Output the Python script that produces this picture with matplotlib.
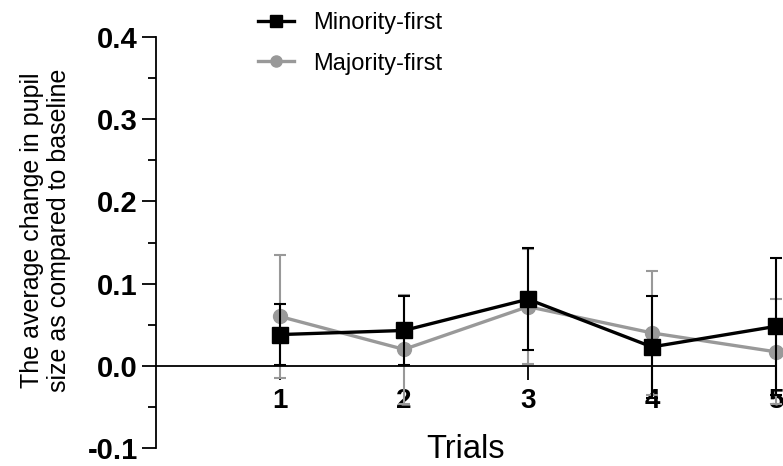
import matplotlib
matplotlib.use("Agg")
import matplotlib.pyplot as plt
from matplotlib.lines import Line2D
import numpy as np

plt.rcParams['font.family'] = ['Liberation Sans', 'DejaVu Sans']

trials = [1, 2, 3, 4, 5]
minority_mean = [0.038, 0.043, 0.081, 0.023, 0.048]
minority_err = [0.037, 0.042, 0.062, 0.062, 0.083]
majority_mean = [0.060, 0.020, 0.072, 0.040, 0.017]
majority_err = [0.075, 0.066, 0.070, 0.075, 0.064]
yticks = [-0.1, 0.0, 0.1, 0.2, 0.3, 0.4]
ytick_labels = ['-0.1', '0.0', '0.1', '0.2', '0.3', '0.4']
series_labels = ['Minority-first', 'Majority-first']

fig = plt.figure(figsize=(7.83, 4.66), dpi=100)
ax = fig.add_axes([0.1992, 0.0386, 0.7918, 0.882])

gray = '#999999'
ax.errorbar(trials, majority_mean, yerr=majority_err, color=gray, marker='o',
            markersize=10, linewidth=2.4, elinewidth=1.5, capsize=4, capthick=1.5,
            zorder=2, clip_on=False)
ax.errorbar(trials, minority_mean, yerr=minority_err, color='black', marker='s',
            markersize=11.5, linewidth=2.4, elinewidth=1.5, capsize=4, capthick=1.5,
            zorder=3, clip_on=False)

ax.set_xlim(0, 5)
ax.set_ylim(-0.1, 0.4)
ax.spines['top'].set_visible(False)
ax.spines['right'].set_visible(False)
ax.spines['bottom'].set_position(('data', 0))
ax.spines['left'].set_linewidth(1.3)
ax.spines['bottom'].set_linewidth(1.3)

ax.set_yticks(yticks)
ax.set_yticklabels(ytick_labels, fontsize=21, fontweight='bold')
ax.set_yticks(np.arange(-0.05, 0.4, 0.1), minor=True)
ax.set_xticks(trials)
ax.set_xticklabels([str(t) for t in trials], fontsize=20, fontweight='bold')
ax.tick_params(axis='y', which='major', length=10, width=1.3, pad=3)
ax.tick_params(axis='y', which='minor', length=6, width=1.3)
ax.tick_params(axis='x', which='major', length=10, width=1.3, pad=6)

ax.set_xlabel('Trials', fontsize=23.5)
ax.xaxis.set_label_coords(0.5, 0.033)
ax.set_ylabel('The average change in pupil\nsize as compared to baseline', fontsize=18,
              linespacing=1.15)
ax.yaxis.set_label_coords(-0.137, 0.53)

handles = [Line2D([], [], color='black', marker='s', markersize=8, linewidth=2.4),
           Line2D([], [], color=gray, marker='o', markersize=8, linewidth=2.4)]
leg = ax.legend(handles, series_labels, loc='upper left', bbox_to_anchor=(0.131, 1.113),
                frameon=False, fontsize=17, handlelength=1.5, handletextpad=0.8,
                labelspacing=0.8)

fig.savefig('out.png', dpi=100)
